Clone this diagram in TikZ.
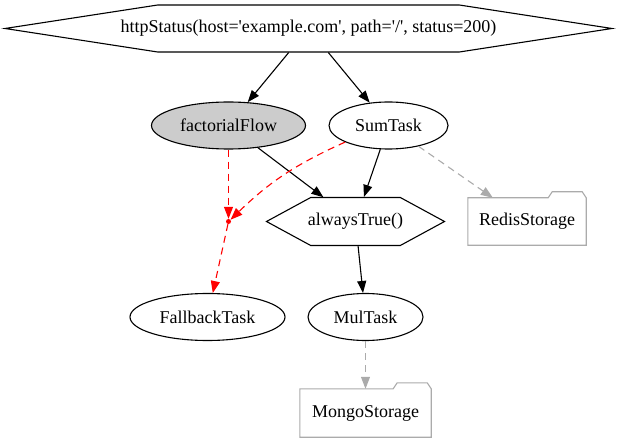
\documentclass[tikz,border=0pt]{standalone}
\usepackage{fontspec}
\setmainfont{Liberation Serif}
\usetikzlibrary{shapes.geometric,shapes.symbols,arrows.meta}

\begin{document}
\begin{tikzpicture}[x=1pt, y=-1pt,
    every node/.style={font=\fontsize{18}{20}\selectfont},
    task/.style      ={ellipse, draw=black, line width=1.1pt, inner sep=0pt, minimum height=47pt},
    flow/.style      ={task, fill=black!20},
    cond/.style      ={signal, signal to=west and east, draw=black, line width=1.1pt, inner sep=0pt, minimum height=47pt},
    store/.style     ={rectangle, inner sep=0pt, minimum height=47pt},
    storeline/.style ={draw=black!33, line width=1.1pt},
    split/.style     ={circle, fill=red, inner sep=0pt, minimum size=5pt},
    link/.style      ={line width=1.1pt, -{Triangle[length=12pt,width=9pt]}},
    save/.style      ={link, color=black!33, dash pattern=on 7pt off 5pt},
    fail/.style      ={link, color=red, dash pattern=on 7pt off 5pt}
  ]
    % --- frame: 617 x 443, y grows downwards ---
    \useasboundingbox (0,0) rectangle (617,443);

    % top condition (text runs into the slanted sides)
    \node[cond, inner xsep=-50pt, minimum width=607pt, signal pointer angle=17.5] (http) at (308.5,28.5)
      {httpStatus(host=\textquotesingle example.com\textquotesingle, path=\textquotesingle/\textquotesingle, status=200)};

    % rank 1
    \node[flow, minimum width=154pt] (fact) at (228.5,125.5) {factorialFlow};
    \node[task, minimum width=119pt] (sum)  at (388.5,125.5) {SumTask};

    % rank 2
    \node[split] (join) at (228.5,221.5) {};
    \node[cond, inner xsep=-8pt, minimum width=178pt, minimum height=48pt, signal pointer angle=57] (always) at (355.5,221.5) {alwaysTrue()};
    \node[store, minimum width=118pt] (redis) at (527,221.5) {RedisStorage};

    % rank 3
    \node[task, minimum width=155pt] (fallback) at (207.5,317) {FallbackTask};
    \node[task, minimum width=115pt] (mul)      at (365.5,317) {MulTask};

    % rank 4
    \node[store, minimum width=131pt, minimum height=48pt] (mongo) at (365.5,413) {MongoStorage};

    % folder outlines for the storages
    \foreach \s in {redis, mongo} {
      \draw[storeline] (\s.south west) -- (\s.north west) -- ([xshift=-38pt]\s.north east)
        -- ++(4,-6) -- ([xshift=-4pt, yshift=6pt]\s.north east) -- (\s.north east)
        -- (\s.south east) -- cycle;
    }

    % control flow
    \draw[link] (http) -- (fact);
    \draw[link] (http) -- (sum);
    \draw[link] (fact) -- (always);
    \draw[link] (sum) -- (always);
    \draw[link] (always) -- (mul);

    % fallback branch
    \draw[fail] (fact) -- (join);
    \draw[fail] (sum) to[bend right=10] (join);
    \draw[fail] (join) -- (fallback);

    % storages
    \draw[save] (sum) -- (redis);
    \draw[save] (mul) -- (mongo);
\end{tikzpicture}
\end{document}
